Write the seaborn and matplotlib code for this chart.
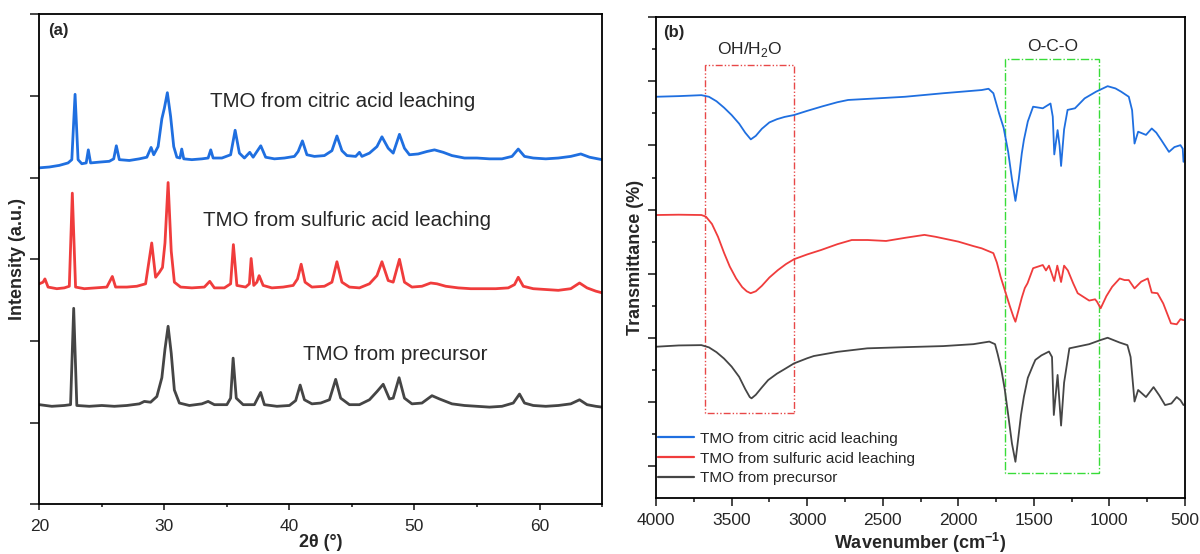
import numpy as np
import pandas as pd
import matplotlib
matplotlib.use("Agg")
import matplotlib.pyplot as plt
from matplotlib.patches import Rectangle
from matplotlib.ticker import MultipleLocator, FixedLocator
import seaborn as sns

# ---------------- data: XRD (panel a) ----------------
xrd_citric_2theta = [20.0, 20.8, 21.6, 22.3, 22.6, 22.86, 23.1, 23.4, 23.75, 23.92, 24.1, 24.8, 25.6, 25.95,
                     26.16, 26.4, 27.2, 28.0, 28.6, 28.94, 29.15, 29.5, 29.8, 30.0, 30.24, 30.5, 30.75, 31.0,
                     31.25, 31.39, 31.55, 32.2, 33.0, 33.5, 33.71, 33.9, 34.6, 35.3, 35.66, 36.0, 36.4, 36.83,
                     37.1, 37.71, 38.1, 38.8, 39.6, 40.4, 40.7, 41.04, 41.4, 42.0, 42.8, 43.4, 43.8, 44.2, 44.6,
                     45.3, 45.6, 45.8, 46.4, 47.0, 47.4, 47.9, 48.3, 48.8, 49.2, 49.6, 50.3, 51.0, 51.6, 52.3,
                     53.0, 54.0, 55.0, 56.0, 57.0, 57.8, 58.3, 58.8, 59.5, 60.5, 61.5, 62.5, 63.3, 64.0, 65.0]
xrd_citric_int = [4.12, 4.13, 4.15, 4.18, 4.22, 5.02, 4.22, 4.17, 4.18, 4.34, 4.18, 4.19, 4.20, 4.23,
                  4.39, 4.22, 4.21, 4.23, 4.25, 4.37, 4.28, 4.38, 4.72, 4.85, 5.04, 4.75, 4.38, 4.25,
                  4.24, 4.35, 4.23, 4.22, 4.23, 4.24, 4.34, 4.24, 4.24, 4.28, 4.58, 4.30, 4.24, 4.31,
                  4.25, 4.39, 4.25, 4.23, 4.24, 4.26, 4.32, 4.45, 4.28, 4.26, 4.27, 4.33, 4.51, 4.33, 4.27,
                  4.26, 4.31, 4.26, 4.30, 4.38, 4.50, 4.36, 4.30, 4.53, 4.36, 4.28, 4.29, 4.32, 4.34, 4.31,
                  4.27, 4.24, 4.24, 4.23, 4.23, 4.26, 4.35, 4.26, 4.24, 4.23, 4.24, 4.26, 4.29, 4.25, 4.22]

xrd_sulfuric_2theta = [20.0, 20.3, 20.45, 20.7, 21.4, 22.0, 22.4, 22.64, 22.9, 23.6, 24.5, 25.4, 25.84, 26.1,
                       27.0, 27.8, 28.5, 28.99, 29.3, 29.6, 29.85, 30.05, 30.3, 30.55, 30.8, 31.3, 32.2, 33.2,
                       33.63, 34.0, 34.8, 35.3, 35.52, 35.8, 36.5, 36.8, 36.94, 37.15, 37.4, 37.58, 37.9, 38.6,
                       39.5, 40.3, 40.65, 40.94, 41.25, 41.8, 42.8, 43.4, 43.8, 44.2, 44.8, 45.6, 46.4, 47.0,
                       47.4, 47.9, 48.3, 48.8, 49.2, 49.8, 50.6, 51.3, 51.8, 52.5, 53.5, 54.5, 55.5, 56.5, 57.5,
                       58.0, 58.3, 58.7, 59.5, 60.5, 61.5, 62.5, 63.2, 63.8, 64.5, 65.0]
xrd_sulfuric_int = [2.70, 2.72, 2.76, 2.66, 2.64, 2.65, 2.67, 3.81, 2.66, 2.64, 2.65, 2.66, 2.79, 2.66,
                    2.66, 2.67, 2.70, 3.20, 2.78, 2.84, 2.90, 3.20, 3.94, 3.10, 2.72, 2.66, 2.65, 2.66,
                    2.73, 2.65, 2.65, 2.70, 3.18, 2.68, 2.66, 2.70, 3.01, 2.68, 2.72, 2.80, 2.68, 2.65,
                    2.66, 2.68, 2.76, 2.94, 2.72, 2.66, 2.67, 2.72, 2.97, 2.72, 2.66, 2.65, 2.70, 2.80,
                    2.97, 2.74, 2.72, 3.00, 2.72, 2.66, 2.67, 2.71, 2.70, 2.67, 2.65, 2.64, 2.64, 2.64, 2.65,
                    2.69, 2.78, 2.67, 2.64, 2.63, 2.62, 2.64, 2.71, 2.65, 2.61, 2.59]

xrd_precursor_2theta = [20.0, 21.0, 22.0, 22.5, 22.75, 23.0, 24.0, 25.0, 26.0, 27.0, 28.0, 28.4, 28.9, 29.4,
                        29.8, 30.05, 30.3, 30.55, 30.8, 31.2, 32.0, 33.0, 33.5, 34.0, 35.0, 35.3, 35.5, 35.75,
                        36.3, 37.2, 37.7, 38.0, 39.0, 40.0, 40.5, 40.86, 41.2, 41.8, 42.5, 43.2, 43.7, 44.1,
                        44.8, 45.6, 46.4, 47.0, 47.5, 48.0, 48.3, 48.77, 49.2, 49.8, 50.6, 51.4, 52.0, 53.0,
                        54.0, 55.0, 56.0, 57.0, 57.9, 58.4, 58.8, 59.5, 60.5, 61.5, 62.5, 63.2, 63.8, 64.5, 65.0]
xrd_precursor_int = [1.22, 1.20, 1.21, 1.22, 2.40, 1.21, 1.20, 1.21, 1.20, 1.21, 1.23, 1.26, 1.25, 1.32,
                     1.55, 1.90, 2.18, 1.85, 1.40, 1.24, 1.21, 1.23, 1.26, 1.22, 1.22, 1.30, 1.79, 1.30,
                     1.22, 1.22, 1.37, 1.22, 1.20, 1.21, 1.27, 1.46, 1.28, 1.23, 1.24, 1.28, 1.53, 1.30,
                     1.22, 1.22, 1.28, 1.38, 1.47, 1.29, 1.30, 1.55, 1.30, 1.23, 1.24, 1.33, 1.29, 1.23,
                     1.21, 1.20, 1.19, 1.20, 1.24, 1.35, 1.24, 1.21, 1.20, 1.21, 1.23, 1.28, 1.22, 1.20, 1.19]

# ---------------- data: FTIR (panel b) ----------------
ftir_citric_wn = [4000, 3850, 3700, 3650, 3600, 3550, 3500, 3450, 3410, 3373, 3340, 3300, 3250, 3200, 3150,
                  3087, 3000, 2900, 2800, 2729, 2500, 2352, 2100, 1845, 1800, 1768, 1730, 1700, 1670, 1645,
                  1622, 1600, 1580, 1566, 1540, 1505, 1441, 1390, 1375, 1365, 1343, 1330, 1320, 1300, 1277,
                  1228, 1164, 1088, 1012, 960, 923, 872, 850, 834, 810, 758, 720, 690, 657, 606, 570, 530,
                  515, 510]
ftir_citric_t = [12.52, 12.54, 12.57, 12.52, 12.38, 12.18, 11.95, 11.68, 11.40, 11.19, 11.30, 11.52, 11.72,
                 11.82, 11.89, 11.95, 12.08, 12.22, 12.35, 12.42, 12.48, 12.52, 12.63, 12.73, 12.77, 12.63,
                 12.00, 11.55, 10.80, 9.95, 9.27, 9.95, 10.75, 11.17, 11.75, 12.21, 12.16, 12.31, 11.90,
                 10.72, 11.48, 11.00, 10.36, 11.50, 12.11, 12.16, 12.47, 12.68, 12.85, 12.78, 12.68, 12.52,
                 12.10, 11.06, 11.43, 11.33, 11.53, 11.40, 11.17, 10.80, 10.95, 11.01, 10.90, 10.49]

ftir_sulfuric_wn = [4000, 3850, 3700, 3670, 3630, 3590, 3550, 3512, 3470, 3430, 3400, 3374, 3340, 3300, 3250,
                    3194, 3140, 3087, 3000, 2907, 2800, 2705, 2600, 2478, 2350, 2224, 2150, 2100, 2000, 1900,
                    1845, 1768, 1745, 1720, 1690, 1660, 1635, 1622, 1605, 1580, 1560, 1542, 1505, 1441, 1420,
                    1400, 1365, 1345, 1320, 1300, 1275, 1240, 1210, 1134, 1095, 1083, 1058, 1020, 982, 932,
                    900, 872, 834, 790, 746, 720, 682, 644, 593, 555, 530, 510]
ftir_sulfuric_t = [8.83, 8.84, 8.83, 8.78, 8.55, 8.15, 7.65, 7.22, 6.85, 6.58, 6.45, 6.39, 6.45, 6.62, 6.88,
                   7.11, 7.30, 7.45, 7.60, 7.74, 7.92, 8.05, 8.05, 8.02, 8.12, 8.21, 8.15, 8.10, 8.00, 7.86,
                   7.79, 7.64, 7.35, 6.90, 6.45, 6.00, 5.65, 5.50, 5.80, 6.25, 6.55, 6.70, 7.17, 7.27, 7.10,
                   7.25, 6.77, 7.25, 6.74, 7.25, 7.10, 6.70, 6.39, 6.16, 6.20, 6.13, 5.92, 6.30, 6.59, 6.85,
                   6.80, 6.80, 6.54, 6.75, 6.85, 6.41, 6.39, 6.07, 5.45, 5.42, 5.58, 5.55]

ftir_precursor_wn = [4000, 3850, 3700, 3650, 3600, 3550, 3500, 3450, 3410, 3380, 3368, 3340, 3300, 3258, 3200,
                     3150, 3087, 3000, 2956, 2800, 2602, 2400, 2100, 1900, 1795, 1757, 1740, 1715, 1693, 1670,
                     1645, 1622, 1605, 1585, 1566, 1540, 1505, 1490, 1450, 1400, 1380, 1368, 1343, 1320, 1300,
                     1265, 1134, 1058, 1012, 932, 881, 860, 834, 810, 758, 708, 670, 632, 590, 555, 530, 510]
ftir_precursor_t = [4.72, 4.76, 4.77, 4.70, 4.55, 4.35, 4.10, 3.78, 3.40, 3.15, 3.11, 3.22, 3.45, 3.68, 3.88,
                    4.02, 4.20, 4.36, 4.43, 4.56, 4.67, 4.70, 4.74, 4.80, 4.88, 4.80, 4.50, 4.00, 3.40, 2.60,
                    1.70, 1.13, 1.80, 2.60, 3.16, 3.75, 4.15, 4.31, 4.45, 4.57, 4.40, 2.59, 3.84, 2.26, 3.60,
                    4.67, 4.80, 4.93, 5.00, 4.85, 4.77, 4.40, 3.01, 3.37, 3.15, 3.46, 3.20, 2.90, 2.95, 3.15,
                    3.05, 2.90]

series_labels = ["TMO from citric acid leaching", "TMO from sulfuric acid leaching", "TMO from precursor"]
series_colors = ["#1F6FE0", "#F03C3C", "#454545"]

# band regions (wavenumber ranges, transmittance ranges)
oh_band_wn = [3676, 3087]
oh_band_t = [2.64, 13.51]
oco_band_wn = [1688, 1067]
oco_band_t = [0.78, 13.69]

# ---------------- style ----------------
sns.set_style("ticks")
plt.rcParams["font.family"] = ["Liberation Sans", "DejaVu Sans"]
plt.rcParams["mathtext.fontset"] = "custom"
plt.rcParams["mathtext.rm"] = "Liberation Sans"
plt.rcParams["mathtext.bf"] = "Liberation Sans:bold"
plt.rcParams["axes.linewidth"] = 1.3
plt.rcParams["axes.edgecolor"] = "black"

fig = plt.figure(figsize=(12, 5.54), dpi=100)
ax_a = fig.add_axes([0.03275, 0.0897, 0.5017 - 0.03275, 0.9742 - 0.0897])
ax_b = fig.add_axes([0.5467, 0.1011, 0.9875 - 0.5467, 0.9688 - 0.1011])

# ---------------- panel (a) ----------------
xrd_sets = [(xrd_citric_2theta, xrd_citric_int), (xrd_sulfuric_2theta, xrd_sulfuric_int),
            (xrd_precursor_2theta, xrd_precursor_int)]
for (xx, yy), lab, col in zip(xrd_sets, series_labels, series_colors):
    df = pd.DataFrame({"x": xx, "y": yy})
    sns.lineplot(data=df, x="x", y="y", ax=ax_a, color=col, linewidth=2.0, legend=False)

ax_a.set_xlim(20, 65)
ax_a.set_ylim(0, 6)
ax_a.xaxis.set_major_locator(MultipleLocator(10))
ax_a.xaxis.set_minor_locator(MultipleLocator(5))
ax_a.yaxis.set_major_locator(MultipleLocator(1))
ax_a.set_yticklabels([])
ax_a.tick_params(axis="x", which="major", direction="out", length=4.6, width=1.2, labelsize=12.5, pad=6)
ax_a.tick_params(axis="x", which="minor", direction="out", length=2.3, width=1.2)
ax_a.tick_params(axis="y", which="major", direction="out", length=6.7, width=1.2)
ax_a.set_xlabel("2θ (°)", fontsize=13, fontweight="bold")
ax_a.set_ylabel("Intensity (a.u.)", fontsize=13, fontweight="bold")
ax_a.xaxis.set_label_coords(0.5, -0.060)
ax_a.yaxis.set_label_coords(-0.024, 0.5)
ax_a.text(20.7, 5.80, "(a)", fontsize=12, fontweight="bold", va="center", ha="left")
ax_a.text(33.66, 4.93, series_labels[0], fontsize=14.8, va="center", ha="left")
ax_a.text(33.1, 3.47, series_labels[1], fontsize=14.8, va="center", ha="left")
ax_a.text(41.07, 1.84, series_labels[2], fontsize=14.8, va="center", ha="left")

# ---------------- panel (b) ----------------
ftir_sets = [(ftir_citric_wn, ftir_citric_t), (ftir_sulfuric_wn, ftir_sulfuric_t),
             (ftir_precursor_wn, ftir_precursor_t)]
for (xx, yy), lab, col in zip(ftir_sets, series_labels, series_colors):
    df = pd.DataFrame({"x": xx, "y": yy})
    sns.lineplot(data=df, x="x", y="y", ax=ax_b, color=col, linewidth=1.3, label=lab)

ax_b.add_patch(Rectangle((oh_band_wn[1], oh_band_t[0]), oh_band_wn[0] - oh_band_wn[1],
                         oh_band_t[1] - oh_band_t[0], fill=False, edgecolor="#E84848",
                         linewidth=1.0, linestyle=(0, (5, 1.5, 1, 1.5, 1, 1.5))))
ax_b.add_patch(Rectangle((oco_band_wn[1], oco_band_t[0]), oco_band_wn[0] - oco_band_wn[1],
                         oco_band_t[1] - oco_band_t[0], fill=False, edgecolor="#38DC38",
                         linewidth=1.0, linestyle=(0, (6, 1.5, 1, 1.5))))

ax_b.set_xlim(4000, 500)
ax_b.set_ylim(0, 15)
ax_b.xaxis.set_major_locator(MultipleLocator(500))
ax_b.xaxis.set_minor_locator(MultipleLocator(250))
ax_b.yaxis.set_major_locator(FixedLocator([1, 3, 5, 7, 9, 11, 13, 15]))
ax_b.yaxis.set_minor_locator(FixedLocator([2, 4, 6, 8, 10, 12, 14]))
ax_b.set_yticklabels([])
ax_b.tick_params(axis="both", which="major", direction="out", length=5.5, width=1.2, labelsize=12.5, pad=5)
ax_b.tick_params(axis="both", which="minor", direction="out", length=3.0, width=1.2)
ax_b.set_xlabel("Wavenumber (cm$^{\\mathbf{-1}}$)", fontsize=13, fontweight="bold")
ax_b.set_ylabel("Transmittance (%)", fontsize=13, fontweight="bold")
ax_b.xaxis.set_label_coords(0.5, -0.068)
ax_b.yaxis.set_label_coords(-0.023, 0.5)
ax_b.text(3954, 14.54, "(b)", fontsize=12, fontweight="bold", va="center", ha="left")
ax_b.text(3380, 13.98, "OH/H$_2$O", fontsize=12.5, va="center", ha="center")
ax_b.text(1375, 14.08, "O-C-O", fontsize=12.5, va="center", ha="center")

leg = ax_b.legend(loc="upper left", bbox_to_anchor=(0.0, 0.141), frameon=False, fontsize=11,
                  handlelength=2.4, handletextpad=0.35, labelspacing=0.38, borderaxespad=0.0,
                  borderpad=0.1)
for line in leg.get_lines():
    line.set_linewidth(1.6)

fig.savefig("out.png", dpi=100)
